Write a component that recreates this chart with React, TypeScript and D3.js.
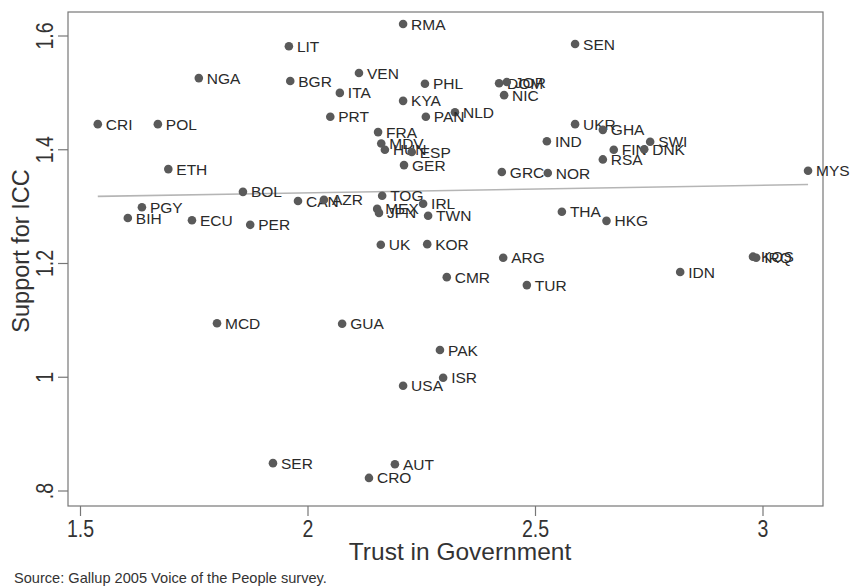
import React from "react";
import * as d3 from "d3";

const countries = ["RMA","LIT","SEN","NGA","BGR","VEN","ITA","PHL","DOM","JOR","NIC","KYA","NLD","PAN","PRT","CRI","POL","UKR","GHA","SWI","FIN","DNK","RSA","IND","FRA","MDV","HUN","ESP","GER","GRC","NOR","MYS","ETH","BOL","CAN","AZR","TOG","IRL","TWN","MEX","JPN","PGY","BIH","ECU","PER","THA","HKG","UK","KOR","ARG","CMR","TUR","IDN","KOS","IRQ","MCD","GUA","PAK","ISR","USA","SER","AUT","CRO"];
const trust = [2.209,1.958,2.587,1.760,1.961,2.112,2.070,2.257,2.420,2.437,2.431,2.209,2.323,2.259,2.049,1.538,1.670,2.587,2.648,2.752,2.672,2.739,2.648,2.525,2.154,2.161,2.169,2.228,2.211,2.426,2.527,3.099,1.693,1.857,1.978,2.035,2.163,2.253,2.264,2.152,2.156,1.635,1.604,1.745,1.873,2.558,2.656,2.160,2.262,2.429,2.305,2.481,2.818,2.978,2.985,1.800,2.075,2.290,2.297,2.209,1.923,2.191,2.134];
const support = [1.621,1.582,1.586,1.526,1.521,1.535,1.500,1.516,1.517,1.519,1.496,1.486,1.466,1.458,1.458,1.445,1.445,1.445,1.435,1.414,1.400,1.401,1.383,1.415,1.431,1.411,1.400,1.396,1.373,1.361,1.359,1.363,1.366,1.326,1.310,1.312,1.319,1.305,1.284,1.296,1.289,1.299,1.280,1.276,1.268,1.291,1.275,1.233,1.234,1.210,1.176,1.162,1.185,1.212,1.210,1.095,1.094,1.048,0.999,0.985,0.849,0.847,0.823];

const xTicks = [1.5, 2, 2.5, 3];
const xTickLabels = ["1.5", "2", "2.5", "3"];
const yTicks = [0.8, 1, 1.2, 1.4, 1.6];
const yTickLabels = [".8", "1", "1.2", "1.4", "1.6"];
const fitX = [1.538, 3.099];
const fitY = [1.318, 1.339];

export default function App() {
  const x = d3.scaleLinear().domain([1.5, 3]).range([80.5, 763]);
  const y = d3.scaleLinear().domain([0.8, 1.6]).range([491, 36]);
  const frame = { l: 68, t: 12, r: 823, b: 506 };
  const font = "'Liberation Sans', Arial, sans-serif";
  const line = d3.line<number>().x((d) => x(fitX[d])).y((d) => y(fitY[d]));
  return (
    <svg width={856} height={588} style={{ position: "absolute", left: 0, top: 0, background: "#fff" }} fontFamily={font}>
      <rect x={frame.l} y={frame.t} width={frame.r - frame.l} height={frame.b - frame.t} fill="none" stroke="#777" strokeWidth={1.2} />
      {yTicks.map((t, i) => (
        <g key={"y" + i}>
          <line x1={frame.l - 10} x2={frame.l} y1={y(t)} y2={y(t)} stroke="#777" strokeWidth={1.2} />
          <text transform={`translate(${45},${y(t)}) rotate(-90) scale(0.85,1)`} textAnchor="middle" dy="0.35em" fontSize={23} fill="#333">{yTickLabels[i]}</text>
        </g>
      ))}
      {xTicks.map((t, i) => (
        <g key={"x" + i}>
          <line x1={x(t)} x2={x(t)} y1={frame.b} y2={frame.b + 10} stroke="#777" strokeWidth={1.2} />
          <text transform={`translate(${x(t)},537) scale(0.85,1)`} textAnchor="middle" fontSize={23} fill="#333">{xTickLabels[i]}</text>
        </g>
      ))}
      <text x={460} y={560} textAnchor="middle" fontSize={24.5} fill="#333">Trust in Government</text>
      <text transform={`translate(21,251) rotate(-90)`} textAnchor="middle" dy="0.35em" fontSize={23.5} fill="#333">Support for ICC</text>
      <text x={14} y={583} fontSize={14.6} fill="#333">Source: Gallup 2005 Voice of the People survey.</text>
      <path d={line([0, 1]) || ""} stroke="#b5b5b5" strokeWidth={1.6} fill="none" />
      {countries.map((c, i) => (
        <g key={c}>
          <circle cx={x(trust[i])} cy={y(support[i])} r={4.3} fill="#5a5a5a" />
          <text x={x(trust[i]) + 8} y={y(support[i])} dy="0.36em" fontSize={15.5} fill="#2a2a2a">{c}</text>
        </g>
      ))}
    </svg>
  );
}
